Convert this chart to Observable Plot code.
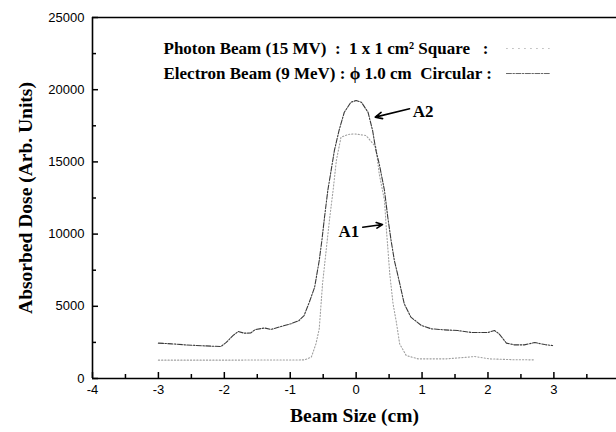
<!DOCTYPE html>
<html><head><meta charset="utf-8">
<script src="https://cdn.jsdelivr.net/npm/d3@7"></script>
<script src="https://cdn.jsdelivr.net/npm/@observablehq/plot@0.6"></script>
<style>
html,body{margin:0;padding:0;background:#fff;}
svg text{white-space:pre;}
</style></head><body><div id="chart"></div>
<script>
// A1: Photon Beam (15 MV), 1 x 1 cm² square (dotted)
const a1X = [-3.0,-2.5,-2.0,-1.5,-1.0,-0.78,-0.68,-0.61,-0.56,-0.51,-0.45,-0.40,-0.35,-0.30,-0.23,-0.12,-0.03,0.15,0.30,0.35,0.43,0.46,0.48,0.51,0.56,0.61,0.66,0.76,0.94,1.37,1.80,2.02,2.40,2.71];
const a1Y = [1270,1270,1270,1280,1280,1290,1480,2400,3440,6560,9090,11170,13020,15100,16710,16900,16940,16830,16020,14170,12330,10250,9090,7250,5170,3900,2400,1590,1360,1360,1520,1360,1300,1290];
// A2: Electron Beam (9 MeV), 1.0 cm circular (dash-dot)
const a2X = [-3.0,-2.8,-2.6,-2.35,-2.15,-2.05,-1.97,-1.87,-1.79,-1.70,-1.60,-1.53,-1.39,-1.29,-1.14,-0.99,-0.87,-0.79,-0.71,-0.63,-0.56,-0.52,-0.48,-0.43,-0.38,-0.33,-0.26,-0.18,-0.08,0,0.08,0.18,0.25,0.30,0.35,0.43,0.48,0.53,0.58,0.62,0.66,0.73,0.83,0.99,1.14,1.34,1.54,1.75,2.00,2.10,2.17,2.28,2.40,2.55,2.71,2.86,2.98];
const a2Y = [2450,2400,2330,2270,2230,2220,2500,2970,3250,3140,3150,3390,3500,3400,3600,3790,4000,4360,5290,6320,8170,9560,11170,13020,14400,15790,17170,18440,19130,19250,19130,18440,17170,15790,14870,13020,11170,9560,8170,7400,6600,5170,4250,3670,3440,3370,3320,3190,3190,3320,3090,2450,2330,2330,2490,2350,2280];

const xTicksMajor = [-4,-3,-2,-1,0,1,2,3,4];
const xTicksMinor = [-3.5,-2.5,-1.5,-0.5,0.5,1.5,2.5,3.5];
const yTicksMajor = [0,5000,10000,15000,20000,25000];
const yTicksMinor = [2500,7500,12500,17500,22500];

const legendLines = ["Photon Beam (15 MV)  :  1 x 1 cm\u00B2 Square   :", "Electron Beam (9 MeV) : \u03D5 1.0 cm  Circular :"];
const legendSwatchX = [2.28, 2.93];
const legendSwatchY = [22850, 21120];

const curveLabels = ["A2", "A1"];
const curveLabelX = [0.86, -0.11];
const curveLabelY = [18490, 10180];
const curveLabelAnchor = ["start", "middle"];
const arrowFromX = [0.81, 0.10];
const arrowFromY = [18680, 10480];
const arrowToX = [0.29, 0.40];
const arrowToY = [18100, 10660];

const xTitle = "Beam Size (cm)";
const yTitle = "Absorbed Dose (Arb. Units)";

const a1 = a1X.map((x, i) => ({x, y: a1Y[i]}));
const a2 = a2X.map((x, i) => ({x, y: a2Y[i]}));
const sw1 = legendSwatchX.map(x => ({x, y: legendSwatchY[0]}));
const sw2 = legendSwatchX.map(x => ({x, y: legendSwatchY[1]}));
const lab = curveLabels.map((t, i) => ({t, x: curveLabelX[i], y: curveLabelY[i], a: curveLabelAnchor[i]}));
const arr = arrowFromX.map((x, i) => ({x1: x, y1: arrowFromY[i], x2: arrowToX[i], y2: arrowToY[i]}));

const serif = "'Liberation Serif', 'Times New Roman', serif";
const sans = "'Liberation Sans', Arial, sans-serif";
const legendStyle = {text: d => d, frameAnchor: "top-left", textAnchor: "start", lineAnchor: "middle", dx: 71, fontFamily: serif, fontWeight: "bold", fontSize: 17, fill: "#000"};

const chart = Plot.plot({
  width: 616, height: 432,
  marginLeft: 92, marginRight: 0, marginTop: 17, marginBottom: 54,
  x: {domain: [-4, 3.95]},
  y: {domain: [0, 25000]},
  style: {background: "#fff", fontFamily: sans, color: "#000"},
  marks: [
    Plot.ruleY([0, 25000], {stroke: "#000", strokeWidth: 1.6}),
    Plot.ruleX([-4], {stroke: "#000", strokeWidth: 1.6}),
    Plot.axisX(xTicksMajor, {tickSize: -6, tickFormat: () => "", label: null, strokeWidth: 1.5}),
    Plot.axisX(xTicksMinor, {tickSize: -4, tickFormat: () => "", label: null, strokeWidth: 1.5}),
    Plot.axisX(xTicksMajor, {tickSize: 0, tickPadding: 6, tickFormat: d => String(d), label: null, fontSize: 13, fontFamily: sans}),
    Plot.axisY(yTicksMajor, {tickSize: -6, tickFormat: () => "", label: null, strokeWidth: 1.5}),
    Plot.axisY(yTicksMinor, {tickSize: -4, tickFormat: () => "", label: null, strokeWidth: 1.5}),
    Plot.axisY(yTicksMajor, {tickSize: 0, tickPadding: 8, tickFormat: d => String(d), label: null, fontSize: 13, fontFamily: sans}),
    Plot.line(a1, {x: "x", y: "y", stroke: "#a0a0a0", strokeWidth: 1.1, strokeDasharray: "1.2,2"}),
    Plot.line(a2, {x: "x", y: "y", stroke: "#3a3a3a", strokeWidth: 1.1, strokeDasharray: "5,1.5,1.5,1.5"}),
    Plot.line(sw1, {x: "x", y: "y", stroke: "#c0c0c0", strokeWidth: 1, strokeDasharray: "1,5"}),
    Plot.line(sw2, {x: "x", y: "y", stroke: "#666", strokeWidth: 1, strokeDasharray: "5,1.5,1.5,1.5"}),
    Plot.arrow(arr, {x1: "x1", y1: "y1", x2: "x2", y2: "y2", stroke: "#000", strokeWidth: 1.6, headLength: 7, headAngle: 50}),
    Plot.text(lab, {x: "x", y: "y", text: "t", textAnchor: "start", filter: d => d.a === "start", fontFamily: serif, fontWeight: "bold", fontSize: 17, fill: "#000"}),
    Plot.text(lab, {x: "x", y: "y", text: "t", textAnchor: "middle", filter: d => d.a === "middle", fontFamily: serif, fontWeight: "bold", fontSize: 17, fill: "#000"}),
    Plot.text(legendLines.slice(0, 1), {...legendStyle, dy: 31}),
    Plot.text(legendLines.slice(1, 2), {...legendStyle, dy: 56}),
    Plot.text([xTitle], {text: d => d, frameAnchor: "bottom", textAnchor: "middle", lineAnchor: "middle", dy: 37, fontFamily: serif, fontWeight: "bold", fontSize: 19.5, fill: "#000"}),
    Plot.text([yTitle], {text: d => d, frameAnchor: "left", rotate: -90, textAnchor: "middle", lineAnchor: "middle", dx: -67, fontFamily: serif, fontWeight: "bold", fontSize: 19.5, fill: "#000"})
  ]
});
document.getElementById("chart").appendChild(chart);
</script>
</body></html>
